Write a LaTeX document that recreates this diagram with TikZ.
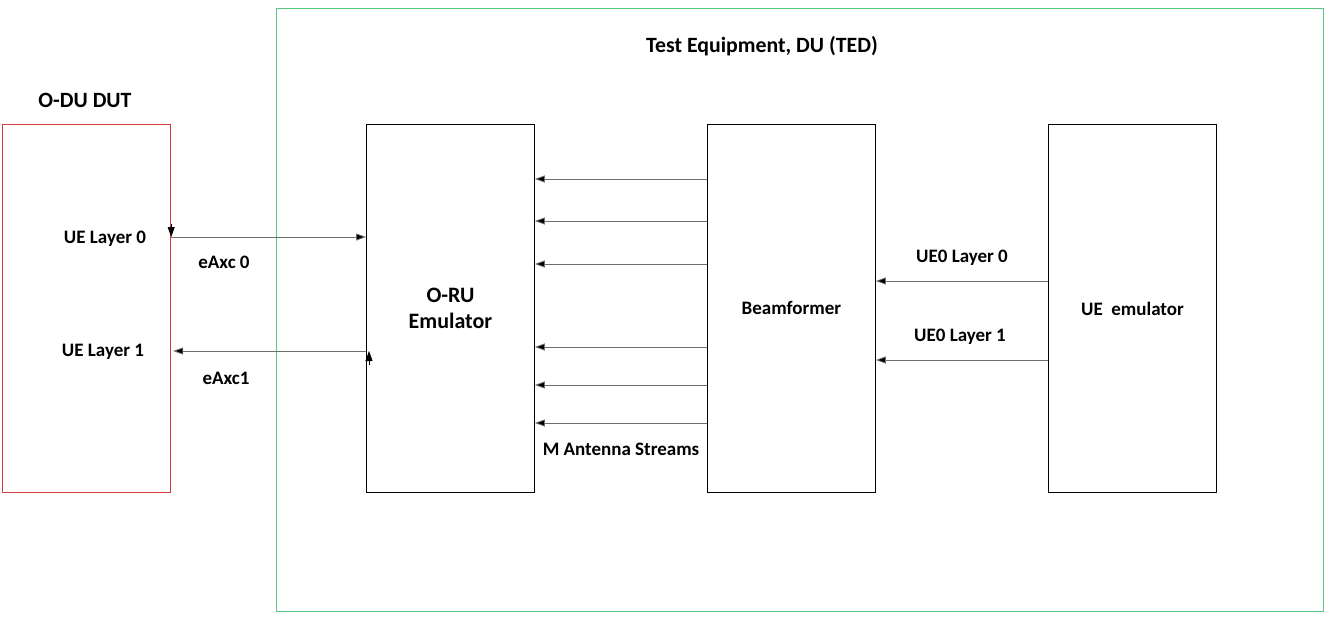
\documentclass[tikz,border=0pt]{standalone}
\usepackage{fontspec}
\setmainfont{Carlito}
\usetikzlibrary{arrows.meta}
\definecolor{tedgreen}{RGB}{84,200,126}
\definecolor{dutred}{RGB}{215,60,60}
\definecolor{linegray}{RGB}{110,110,110}
\begin{document}
\begin{tikzpicture}[x=1pt,y=-1pt,
  blk/.style={draw=black,line width=0.9pt,minimum width=168pt,minimum height=368pt,inner sep=0pt,anchor=north west,align=center,font=\fontsize{19}{26}\selectfont\bfseries},
  lbl/.style={font=\fontsize{19}{23}\selectfont\bfseries,inner sep=0pt},
  ttl/.style={font=\fontsize{21.8}{26}\selectfont\bfseries,inner sep=0pt},
  conn/.style={draw=linegray,line width=0.8pt,-{Triangle[length=10pt,width=7pt,fill=black]}},
  tiponly/.style={draw=black,line width=0.8pt,-{Triangle[length=10pt,width=7pt]}}]
\useasboundingbox (0,0) rectangle (1331,619);
% outer frames
\node[draw=tedgreen,line width=1.4pt,minimum width=1047pt,minimum height=603pt,inner sep=0pt,anchor=north west] (ted) at (276,8) {};
\node[draw=dutred,line width=1.2pt,minimum width=168pt,minimum height=368pt,inner sep=0pt,anchor=north west] (dut) at (2,124) {};
\node[ttl] (tedt) at (762,46) {Test Equipment, DU (TED)};
\node[ttl] (dutt) at (85,100) {O-DU DUT};
% blocks
\node[blk,font=\fontsize{22}{26}\selectfont\bfseries] (oru) at (366,124) {O-RU\\Emulator};
\node[blk] (bf) at (707,124) {Beamformer};
\node[blk] (ue) at (1048,124) {UE\ \ emulator};
% labels in DUT
\node[lbl] (l0) at (105,239) {UE Layer 0};
\node[lbl] (l1) at (103,352) {UE Layer 1};
% DUT <-> O-RU
\coordinate (a0s) at (dut.east |- 0,237);
\coordinate (a0e) at (oru.west |- 0,237);
\draw[conn] (a0s) -- (a0e);
\draw[tiponly] ([yshift=13pt]a0s) -- (a0s);
\coordinate (a1s) at (oru.west |- 0,351);
\coordinate (a1e) at (dut.east |- 0,351);
\draw[conn] (a1s) -- ([xshift=2pt]a1e);
\draw[tiponly] ([xshift=3pt,yshift=-14pt]a1s) -- ([xshift=3pt]a1s);
\node[lbl] (e0) at (224,262) {eAxc 0};
\node[lbl] (e1) at (226,378) {eAxc1};
% Beamformer -> O-RU antenna streams
\foreach \yy in {179,221,264,347,385,423}{
  \draw[conn] (bf.west |- 0,\yy) -- (oru.east |- 0,\yy);
}
\node[lbl] (mas) at (621,449) {M Antenna Streams};
% UE emulator -> Beamformer
\draw[conn] (ue.west |- 0,281) -- (bf.east |- 0,281);
\draw[conn] (ue.west |- 0,360) -- (bf.east |- 0,360);
\node[lbl] (u0) at (962,258) {UE0 Layer 0};
\node[lbl] (u1) at (960,337) {UE0 Layer 1};
\end{tikzpicture}
\end{document}
